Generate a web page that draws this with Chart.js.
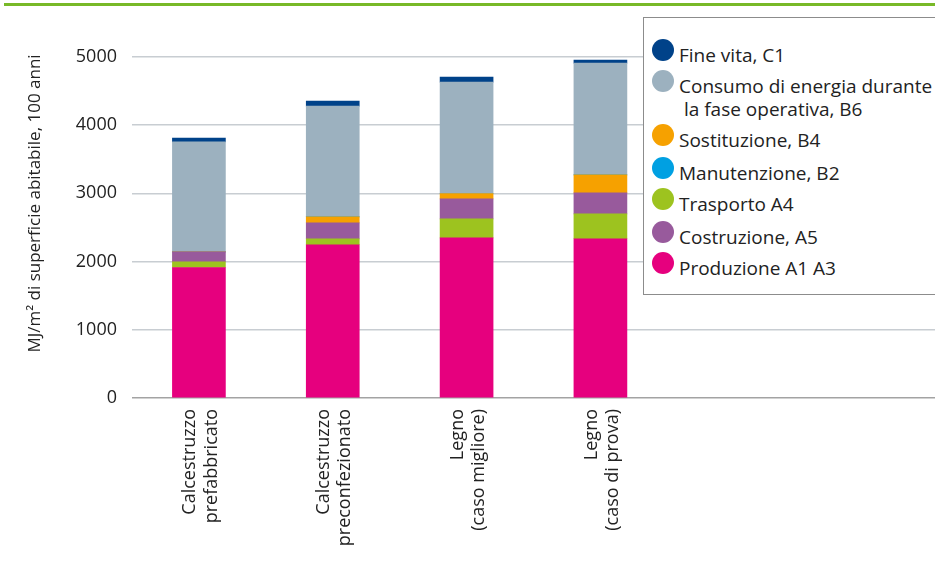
<!DOCTYPE html>
<html><head><meta charset="utf-8">
<script src="https://cdn.jsdelivr.net/npm/chart.js@4"></script>
<style>
body{margin:0;background:#fff;}
#wrap{position:relative;width:935px;height:587px;overflow:hidden;}
#rule{position:absolute;left:4px;right:0;top:3px;height:3px;background:#78b928;}
#legend{position:absolute;left:643px;top:17px;width:320px;height:276px;border:1px solid #8c8c8c;background:#fff;font-family:'Open Sans';font-size:19px;color:#222;}
.dot{position:absolute;width:22px;height:22px;border-radius:50%;}
.txt{position:absolute;left:35px;line-height:23px;white-space:nowrap;}
canvas{position:absolute;left:0;top:0;}
</style></head>
<body>
<div id="wrap">
<canvas id="c" width="935" height="587"></canvas>
<div id="rule"></div>
<div id="legend"></div>
</div>
<script>
const categories = [['Calcestruzzo','prefabbricato'],['Calcestruzzo','preconfezionato'],['Legno','(caso migliore)'],['Legno','(caso di prova)'],'',''];
const produzione   = [1912, 2245, 2347, 2333];
const trasporto    = [84, 87, 278, 365];
const costruzione  = [146, 235, 293, 308];
const sostituzione = [0, 87, 78, 263];
const manutenzione = [0, 0, 0, 0];
const consumo      = [1610, 1624, 1633, 1638];
const fineVita     = [58, 73, 73, 44];
const yTicks = [0, 1000, 2000, 3000, 4000, 5000];
const yTitle = 'MJ/m² di superficie abitabile, 100 anni';

const series = [
  {label:'Produzione A1 A3', data:produzione, color:'#e6007e'},
  {label:'Trasporto A4', data:trasporto, color:'#9dc31f'},
  {label:'Costruzione, A5', data:costruzione, color:'#985a9c'},
  {label:'Sostituzione, B4', data:sostituzione, color:'#f6a100'},
  {label:'Manutenzione, B2', data:manutenzione, color:'#00a0e2'},
  {label:['Consumo di energia durante','la fase operativa, B6'], data:consumo, color:'#9cb1bf'},
  {label:'Fine vita, C1', data:fineVita, color:'#004289'}
];
const legendOrder = ['Fine vita, C1','Consumo di energia durante','Sostituzione, B4','Manutenzione, B2','Trasporto A4','Costruzione, A5','Produzione A1 A3'];

const chart = new Chart(document.getElementById('c'), {
  type:'bar',
  data:{
    labels:categories,
    datasets:series.map(s=>({label:Array.isArray(s.label)?s.label.join(' '):s.label, data:s.data, backgroundColor:s.color, barThickness:53, borderWidth:0}))
  },
  options:{
    responsive:false, animation:false,
    layout:{padding:{top:9,left:0,right:0,bottom:0}},
    plugins:{legend:{display:false}, tooltip:{enabled:false}},
    scales:{
      x:{stacked:true, grid:{display:false}, border:{display:false},
         ticks:{maxRotation:90, minRotation:90, color:'#222', font:{family:'Open Sans', size:18}, padding:3, labelOffset:-9},
         afterFit:s=>{s.height=189; s.paddingLeft=0; s.paddingRight=0;}},
      y:{stacked:true, min:0, max:5700,
         afterBuildTicks:s=>{s.ticks = yTicks.map(v=>({value:v}));},
         afterFit:s=>{s.width=132; s.paddingTop=0; s.paddingBottom=0;},
         border:{display:false},
         grid:{drawTicks:false, color:c=>c.tick && c.tick.value===0 ? '#a3a3a3' : '#c8cdd2', lineWidth:1.5},
         ticks:{color:'#222', font:{family:'Open Sans', size:18}, padding:15, callback:v=>String(v)},
         title:{display:true, text:yTitle, color:'#222', font:{family:'Open Sans', size:17}, padding:{top:25,bottom:0}}}
    }
  }
});

// HTML legend built from the series
const lg = document.getElementById('legend');
const centers = [32, 63, 117, 150, 181, 214, 245];
legendOrder.forEach((name,i)=>{
  const s = series.find(x=> (Array.isArray(x.label)?x.label[0]:x.label)===name);
  const cy = centers[i];
  const d = document.createElement('div');
  d.className='dot'; d.style.left='8px'; d.style.top=(cy-11)+'px'; d.style.background=s.color;
  lg.appendChild(d);
  const t = document.createElement('div');
  t.className='txt'; t.style.top=(cy+5-11.5)+'px';
  t.innerHTML = Array.isArray(s.label) ? s.label[0]+'<br>&nbsp;'+s.label[1] : s.label;
  lg.appendChild(t);
});
</script>
</body></html>
